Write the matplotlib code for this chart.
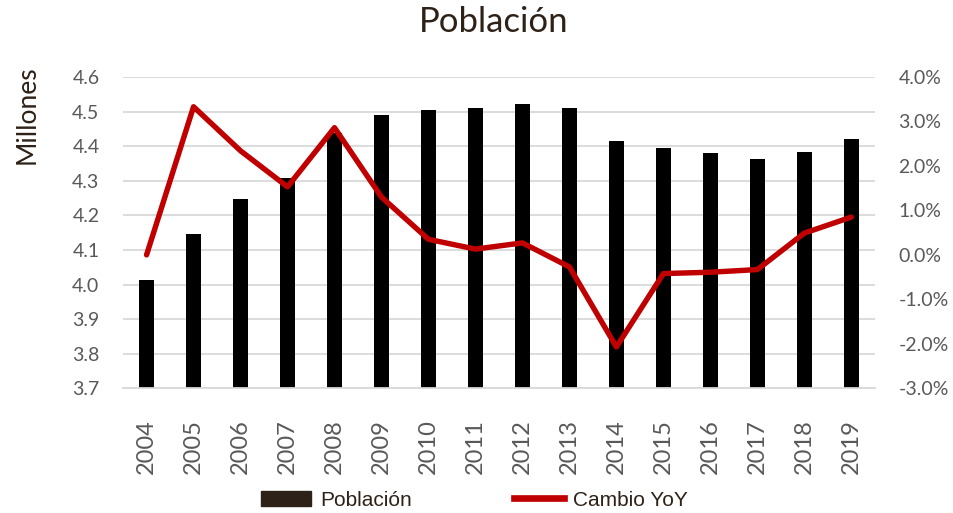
import matplotlib.pyplot as plt
from matplotlib.patches import Patch
from matplotlib.lines import Line2D
from matplotlib.ticker import FuncFormatter
from matplotlib import font_manager

years = ['2004', '2005', '2006', '2007', '2008', '2009', '2010', '2011',
         '2012', '2013', '2014', '2015', '2016', '2017', '2018', '2019']
poblacion = [4.013, 4.147, 4.246, 4.308, 4.437, 4.490, 4.505, 4.511,
             4.522, 4.510, 4.416, 4.395, 4.379, 4.364, 4.384, 4.421]
cambio_yoy = [0.00, 3.33, 2.34, 1.53, 2.86, 1.30, 0.35, 0.13,
              0.27, -0.27, -2.07, -0.42, -0.39, -0.33, 0.49, 0.85]

plt.rcParams['font.family'] = ['Lato', 'DejaVu Sans']
gray = '#595959'
brown = '#2e2117'
red = '#c00000'

# narrow font for the legend, if it is there
names = {f.name for f in font_manager.fontManager.ttflist}
leg_font = 'Liberation Sans Narrow' if 'Liberation Sans Narrow' in names else 'Liberation Sans'

fig = plt.figure(figsize=(9.54, 5.13), dpi=100)
ax = fig.add_axes([0.129, 0.243, 0.788, 0.607])
x = list(range(len(years)))

ax.bar(x, poblacion, width=0.32, color='black', zorder=2)
ax.set_ylim(3.7, 4.6)
ax.set_yticks([3.7 + 0.1 * i for i in range(10)])
ax.yaxis.set_major_formatter(FuncFormatter(lambda v, p: f'{v:.1f}'))
ax.set_xlim(-0.5, len(years) - 0.5)
ax.set_xticks(x)
ax.set_xticklabels(years, rotation=90)
ax.grid(axis='y', color='#d9d9d9', linewidth=1.3, zorder=0)
ax.set_axisbelow(True)
for s in ['top', 'right', 'left']:
    ax.spines[s].set_visible(False)
ax.spines['bottom'].set_color('#d9d9d9')
ax.spines['bottom'].set_linewidth(1.3)
ax.tick_params(axis='y', length=0, labelsize=14, colors=gray, pad=17)
ax.tick_params(axis='x', length=0, labelsize=17, colors=gray, pad=22)

fig.text(0.028, 0.776, 'Millones', rotation=90, fontsize=19, color=brown,
         ha='center', va='center')

ax2 = ax.twinx()
ax2.plot(x, cambio_yoy, color=red, linewidth=3.9, solid_capstyle='round',
         solid_joinstyle='round', zorder=3)
ax2.set_ylim(-3.0, 4.0)
ax2.set_yticks(range(-3, 5))
ax2.yaxis.set_major_formatter(FuncFormatter(lambda v, p: f'{v:.1f}%'))
for s in ['top', 'right', 'left', 'bottom']:
    ax2.spines[s].set_visible(False)
ax2.tick_params(axis='y', length=0, labelsize=14, colors=gray, pad=17)

fig.text(0.518, 0.957, 'Población', fontsize=25, color=brown,
         ha='center', va='center')

leg_kw = dict(loc='center left', frameon=False, handlelength=2.4,
              handleheight=0.75, handletextpad=0.45, borderpad=0,
              borderaxespad=0, prop={'family': leg_font, 'size': 15})
leg1 = fig.legend([Patch(facecolor=brown, edgecolor=brown)], ['Población'],
                  bbox_to_anchor=(261 / 954, 1 - 500 / 513), **leg_kw)
leg2 = fig.legend([Line2D([0], [0], color=red, linewidth=4.8)], ['Cambio YoY'],
                  bbox_to_anchor=(514 / 954, 1 - 500 / 513), **leg_kw)
for leg in (leg1, leg2):
    for t in leg.get_texts():
        t.set_color(brown)

fig.savefig('out.png', dpi=100)
